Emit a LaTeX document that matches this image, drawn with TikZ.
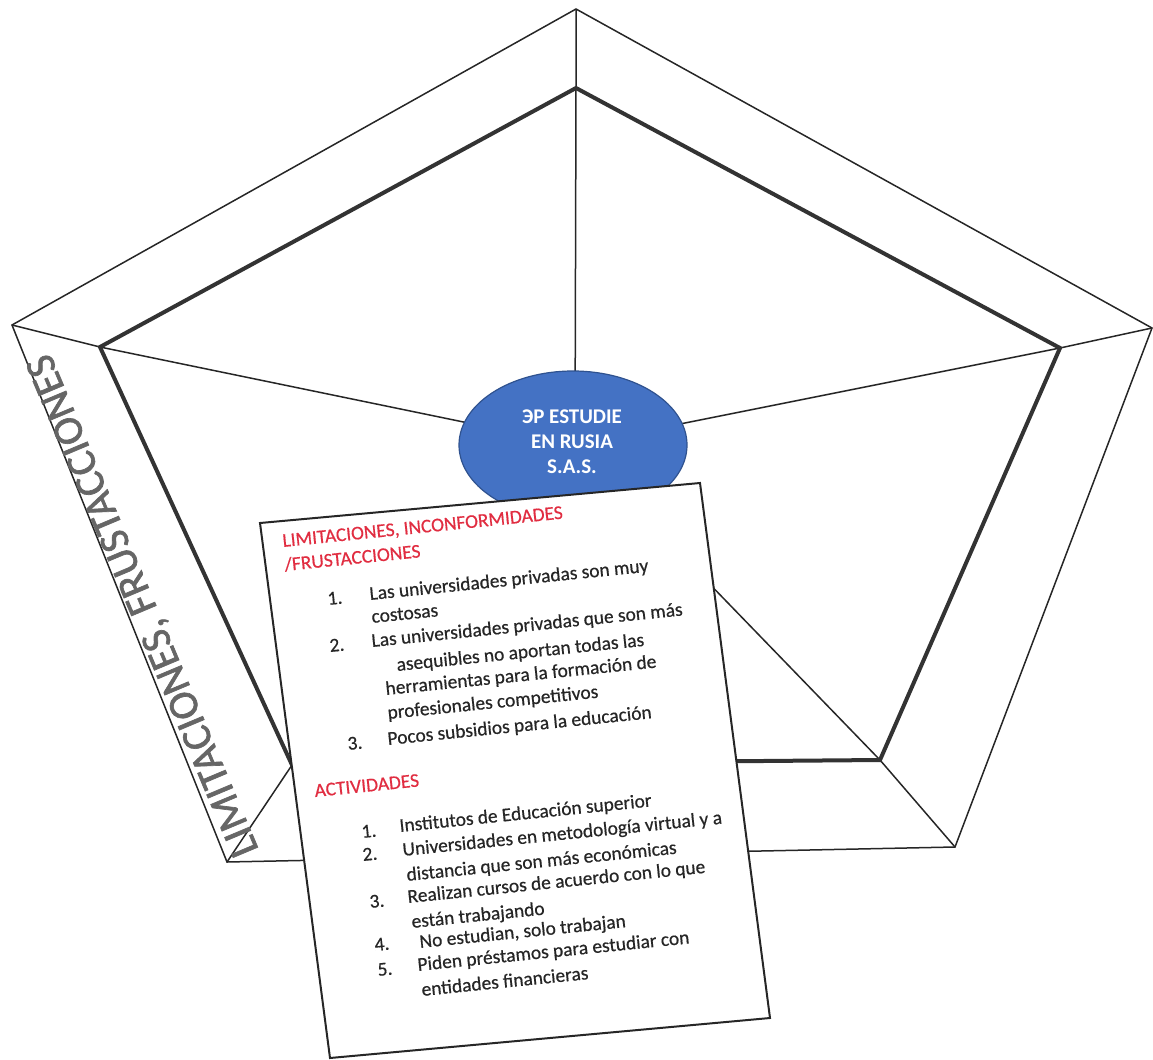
\documentclass[tikz,border=0pt]{standalone}
\usepackage{fontspec}
\setmainfont{Carlito}
\newfontfamily\sidefont[FakeBold=1.6]{Carlito}
\newfontfamily\cardfont[FakeBold=0.5]{Carlito}
\usetikzlibrary{shapes.geometric}
\definecolor{ovalblue}{RGB}{68,114,196}
\definecolor{ovaledge}{RGB}{47,82,143}
\definecolor{headred}{RGB}{225,45,65}
\begin{document}
\begin{tikzpicture}[x=1bp,y=-1bp,
  outerline/.style={line width=1.5bp, black!85, line join=miter},
  innerline/.style={line width=4bp, black!80, line join=miter},
  spoke/.style={line width=1.5bp, black!85},
  boxtxt/.style={anchor=base west, rotate=5.8, inner sep=0pt, text=black!85, font=\cardfont\fontsize{19.5}{19.5}\selectfont},
  headtxt/.style={boxtxt, text=headred},
  ovaltxt/.style={anchor=base, inner sep=0pt, text=white, font=\bfseries\fontsize{21}{21}\selectfont},
]
\useasboundingbox (0,0) rectangle (1153,1060);
% outer pentagon
\coordinate (oT) at (576,9);
\coordinate (oR) at (1152,328);
\coordinate (oBR) at (955,847);
\coordinate (oBL) at (227,862);
\coordinate (oL) at (12,325);
% inner pentagon
\coordinate (iT) at (576,88);
\coordinate (iR) at (1060,348);
\coordinate (iBR) at (880,760);
\coordinate (iBL) at (292,765);
\coordinate (iL) at (100,347);
\coordinate (hub) at (575,445);
\draw[outerline] (oT) -- (oR) -- (oBR) -- (oBL) -- (oL) -- cycle;
\foreach \a in {T,R,BR,BL,L} \draw[spoke] (o\a) -- (i\a) -- (hub);
\draw[innerline] (iT) -- (iR) -- (iBR) -- (iBL) -- (iL) -- cycle;
% side title
\node[anchor=base west, rotate=112.8, inner sep=0pt, text=black!60, font=\sidefont\fontsize{42}{42}\selectfont] (side) at (259,850) {LIMITACIONES, FRUSTACCIONES};
% oval
\node[ellipse, fill=ovalblue, draw=ovaledge, line width=1.2bp, minimum width=228bp, minimum height=148bp, inner sep=0pt] (oval) at (573,445) {};
\node[ovaltxt] (ov1) at (572,423) {ЭP ESTUDIE};
\node[ovaltxt] (ov2) at (572,448) {EN RUSIA};
\node[ovaltxt] (ov3) at (572,473) {S.A.S.};
% card
\coordinate (bTL) at (260,523);
\coordinate (bTR) at (700,483);
\coordinate (bBR) at (770,1018);
\coordinate (bBL) at (330,1058);
\draw[line width=2bp, black!85, fill=white] (bTL) -- (bTR) -- (bBR) -- (bBL) -- cycle;
\node[headtxt] (h1) at (283,547) {LIMITACIONES, INCONFORMIDADES};
\node[headtxt] (h2) at (285,571) {/FRUSTACCIONES};
\node[boxtxt] (n1) at (328,605) {1.};
\node[boxtxt] (t1) at (370,600) {Las universidades privadas son muy};
\node[boxtxt] (t1b) at (372,623) {costosas};
\node[boxtxt] (n2) at (330,652) {2.};
\node[boxtxt] (t2) at (372,647) {Las universidades privadas que son más};
\node[boxtxt] (t2b) at (397,671) {asequibles no aportan todas las};
\node[boxtxt] (t2c) at (386,695) {herramientas para la formación de};
\node[boxtxt] (t2d) at (388,719) {profesionales competitivos};
\node[boxtxt] (n3) at (348,750) {3.};
\node[boxtxt] (t3) at (388,745) {Pocos subsidios para la educación};
\node[headtxt] (h3) at (315,797) {ACTIVIDADES};
\node[boxtxt] (a1n) at (362,838) {1.};
\node[boxtxt] (a1) at (400,832) {Institutos de Educación superior};
\node[boxtxt] (a2n) at (363,861) {2.};
\node[boxtxt] (a2) at (403,856) {Universidades en metodología virtual y a};
\node[boxtxt] (a2b) at (407,881) {distancia que son más económicas};
\node[boxtxt] (a3n) at (370,908) {3.};
\node[boxtxt] (a3) at (408,903) {Realizan cursos de acuerdo con lo que};
\node[boxtxt] (a3b) at (412,928) {están trabajando};
\node[boxtxt] (a4n) at (375,951) {4.};
\node[boxtxt] (a4) at (420,948) {No estudian, solo trabajan};
\node[boxtxt] (a5n) at (378,976) {5.};
\node[boxtxt] (a5) at (418,971) {Piden préstamos para estudiar con};
\node[boxtxt] (a5b) at (422,996) {entidades financieras};
\end{tikzpicture}
\end{document}
